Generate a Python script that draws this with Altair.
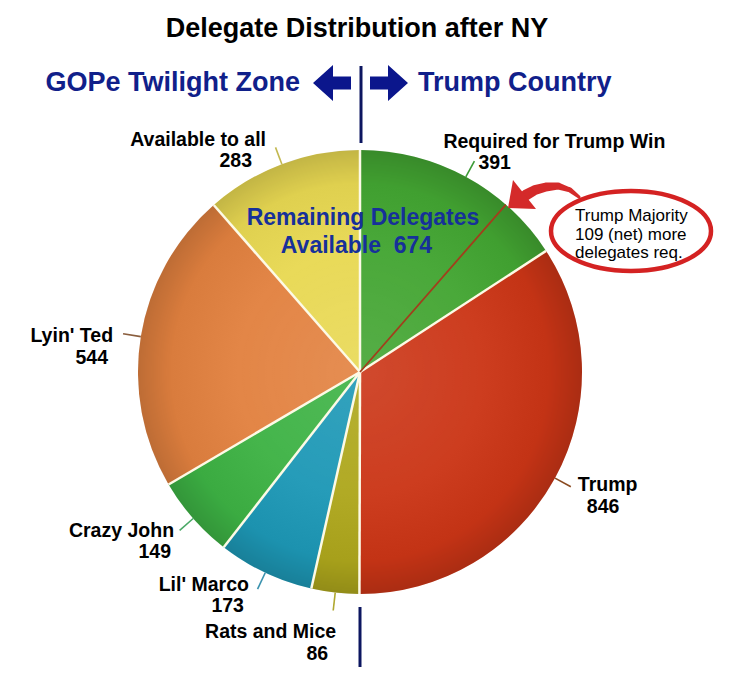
import math
import altair as alt
import pandas as pd

# ---------------- data ----------------
names = ["Required for Trump Win", "Trump", "Rats and Mice", "Lil' Marco",
         "Crazy John", "Lyin' Ted", "Available to all"]
values = [391, 846, 86, 173, 149, 544, 283]
colors = ["#43a532", "#cb3516", "#aea71c", "#1d98b6", "#3db244", "#e2813f", "#e8d852"]
leader_colors = ["#3c9a35", "#8a4a20", "#b0a830", "#3a92ae", "#4aa866", "#8a5e3e", "#c2b850"]
majority_needed = 109

title_text = "Delegate Distribution after NY"
left_zone = "GOPe Twilight Zone"
right_zone = "Trump Country"
remaining = values[0] + values[-1]
center_lines = ["Remaining Delegates", f"Available\u00a0 {remaining}"]
note_lines = ["Trump Majority", "109 (net) more", "delegates req."]

# ---------------- layout ----------------
W, H = 713, 670
CX, CY, R = 352, 364, 222
R_LEAD = 240
FONT = "Liberation Sans, Arial, Helvetica, sans-serif"
NAVY = "#10208a"
# label offsets relative to the end of each leader line: (dx, dy)
name_off = [(-31, -13), (7, 4), (3, 27.5), (-8.6, 2), (-5.6, 6.7), (-10, 8.5), (-9.5, -1)]
num_off = [(4, 8), (16, 26), (-5, 49.5), (-13.6, 23), (-8.6, 27.5), (-15, 30), (-23.5, 20)]
label_align = ["left", "left", "right", "right", "right", "right", "right"]

total = sum(values)
cum = 0
rows, leaders, labels_l, labels_r, bounds = [], [], [], [], []
for i, (n, v) in enumerate(zip(names, values)):
    a0 = cum / total * 2 * math.pi
    bounds.append({"x": CX, "y": CY, "x2": CX + R * math.sin(a0), "y2": CY - R * math.cos(a0)})
    mid = (cum + v / 2) / total * 2 * math.pi
    cum += v
    s, c = math.sin(mid), math.cos(mid)
    x1, y1 = CX + R * s, CY - R * c
    x2, y2 = CX + R_LEAD * s, CY - R_LEAD * c
    rows.append({"name": n, "value": v, "order": i})
    leaders.append({"x": x1, "y": y1, "x2": x2, "y2": y2, "c": leader_colors[i]})
    tgt = labels_l if label_align[i] == "left" else labels_r
    tgt.append({"x": x2 + name_off[i][0], "y": y2 + name_off[i][1], "t": n})
    tgt.append({"x": x2 + num_off[i][0], "y": y2 + num_off[i][1], "t": str(v)})

pie_df = pd.DataFrame(rows)
lead_df = pd.DataFrame(leaders)
bound_df = pd.DataFrame(bounds)

X = lambda f="x": alt.X(f"{f}:Q", scale=None, axis=None)
Y = lambda f="y": alt.Y(f"{f}:Q", scale=None, axis=None)

color_enc = alt.Color("name:N", scale=alt.Scale(domain=names, range=colors), legend=None)

slices = alt.Chart(pie_df).mark_arc(outerRadius=R, strokeWidth=0).encode(
    theta=alt.Theta("value:Q", stack=True), color=color_enc, order=alt.Order("order:Q"),
    x=alt.value(CX), y=alt.value(CY))

shade = alt.Chart(pd.DataFrame({"a": [0]})).mark_arc(
    outerRadius=R, theta=0, theta2=2 * math.pi,
    fill={"gradient": "radial", "x1": 0.5, "y1": 0.5, "r1": 0,
          "x2": 0.5, "y2": 0.5, "r2": 0.5,
          "stops": [{"offset": 0, "color": "rgba(255,255,255,0.10)"},
                    {"offset": 0.55, "color": "rgba(255,255,255,0.04)"},
                    {"offset": 0.85, "color": "rgba(0,0,0,0.04)"},
                    {"offset": 1, "color": "rgba(0,0,0,0.16)"}]}
).encode(x=alt.value(CX), y=alt.value(CY))

seps = alt.Chart(bound_df).mark_rule(color="#fdfae6", strokeWidth=2.5).encode(
    x=X(), y=Y(), x2="x2:Q", y2="y2:Q")

ang = (values[0] - majority_needed) / total * 2 * math.pi
maj_df = pd.DataFrame({"x": [CX], "y": [CY], "x2": [CX + R * math.sin(ang)],
                       "y2": [CY - R * math.cos(ang)]})
maj = alt.Chart(maj_df).mark_rule(color="#a23e1c", strokeWidth=1.8).encode(
    x=X(), y=Y(), x2="x2:Q", y2="y2:Q")

lead = alt.Chart(lead_df).mark_rule(strokeWidth=1.6).encode(
    x=X(), y=Y(), x2="x2:Q", y2="y2:Q", color=alt.Color("c:N", scale=None))


def text_layer(items, align, size, weight="bold", color="black"):
    return alt.Chart(pd.DataFrame(items)).mark_text(
        align=align, baseline="alphabetic", font=FONT, fontSize=size,
        fontWeight=weight, color=color).encode(x=X(), y=Y(), text="t:N")


lab_l = text_layer(labels_l, "left", 19.5)
lab_r = text_layer(labels_r, "right", 19.5)

title = text_layer([{"x": 349, "y": 29, "t": title_text}], "center", 27)
zone_l = text_layer([{"x": 292, "y": 83, "t": left_zone}], "right", 27, color=NAVY)
zone_r = text_layer([{"x": 410, "y": 83, "t": right_zone}], "left", 27, color=NAVY)
center_txt = text_layer([{"x": 355, "y": 217, "t": center_lines[0]},
                         {"x": 348.5, "y": 245, "t": center_lines[1]}],
                        "center", 23, color="#16309a")
note_txt = text_layer([{"x": 567, "y": 213 + 18.5 * k, "t": t} for k, t in enumerate(note_lines)],
                      "left", 17, weight="normal")

# navy block arrows and divider
LEFT_ARROW = "M -19 0 L 1 -18 L 1 -6.5 L 19 -6.5 L 19 6.5 L 1 6.5 L 1 18 Z"
RIGHT_ARROW = "M 19 0 L -1 -18 L -1 -6.5 L -19 -6.5 L -19 6.5 L -1 6.5 L -1 18 Z"
arr_l = alt.Chart(pd.DataFrame({"x": [324], "y": [75]})).mark_point(
    shape=LEFT_ARROW, size=4, filled=True, fill="#0b168c", strokeWidth=0, opacity=1
).encode(x=X(), y=Y())
arr_r = alt.Chart(pd.DataFrame({"x": [381], "y": [75]})).mark_point(
    shape=RIGHT_ARROW, size=4, filled=True, fill="#0b168c", strokeWidth=0, opacity=1
).encode(x=X(), y=Y())
div_df = pd.DataFrame({"x": [353, 352], "y": [58, 599], "x2": [353, 352], "y2": [135, 659]})
divider = alt.Chart(div_df).mark_rule(color="#0c1660", strokeWidth=3).encode(
    x=X(), y=Y(), x2="x2:Q", y2="y2:Q")

# red callout: ellipse + curved arrow
ELLIPSE = "M -80 0 A 80 40 0 1 1 80 0 A 80 40 0 1 1 -80 0 Z"
ell = alt.Chart(pd.DataFrame({"x": [623], "y": [223]})).mark_point(
    shape=ELLIPSE, size=4, filled=True, fill="white", stroke="#d42222",
    strokeWidth=4.5, opacity=1).encode(x=X(), y=Y())
trail_df = pd.DataFrame({
    "x": [571, 562, 550, 538, 527, 518],
    "y": [189, 182, 178, 179, 182, 187],
    "w": [3, 5, 7, 9, 10, 11],
    "i": [0, 1, 2, 3, 4, 5]})
trail = alt.Chart(trail_df).mark_trail(color="#d42a2a").encode(
    x=X(), y=Y(), size=alt.Size("w:Q", scale=None, legend=None), order="i:Q")
HEAD = "M -11 9 L -6 -19 L 17 10 Z"
head = alt.Chart(pd.DataFrame({"x": [511], "y": [191]})).mark_point(
    shape=HEAD, size=4, filled=True, fill="#d42a2a", strokeWidth=0, opacity=1
).encode(x=X(), y=Y())

chart = alt.layer(
    slices, shade, seps, maj, lead, lab_l, lab_r, title, zone_l, zone_r,
    center_txt, divider, arr_l, arr_r, trail, head, ell, note_txt
).properties(
    width=W, height=H, padding=0, background="white",
    autosize=alt.AutoSizeParams(type="none"),
).configure_view(stroke=None)

chart.save("out.html", embed_options={"renderer": "svg", "actions": False})
